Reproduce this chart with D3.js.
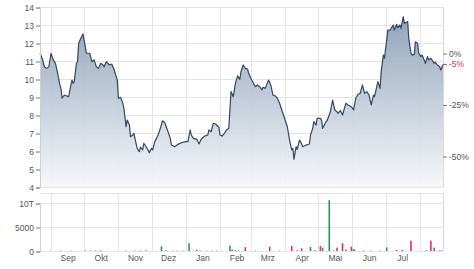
<!DOCTYPE html>
<html>
<head>
<meta charset="utf-8">
<script src="https://cdn.jsdelivr.net/npm/d3@7"></script>
<style>
  body { margin: 0; background: #fff; }
  svg { display: block; font-family: "DejaVu Sans", Verdana, sans-serif; }
  .tick text { fill: #555; font-size: 8.5px; }
</style>
</head>
<body>
<div id="chart"></div>
<script>
// price series
const priceDates = [
  "2022-08-22","2022-08-24","2022-08-26","2022-08-28","2022-08-30","2022-09-01","2022-09-03","2022-09-05","2022-09-07","2022-09-09",
  "2022-09-10","2022-09-11","2022-09-13","2022-09-15","2022-09-17","2022-09-19","2022-09-20","2022-09-21","2022-09-22","2022-09-24",
  "2022-09-25","2022-09-26","2022-09-28","2022-09-30","2022-10-02","2022-10-03","2022-10-06","2022-10-08","2022-10-10","2022-10-12",
  "2022-10-14","2022-10-16","2022-10-18","2022-10-19","2022-10-21","2022-10-24","2022-10-26","2022-10-28","2022-10-31","2022-11-01",
  "2022-11-03","2022-11-05","2022-11-06","2022-11-08","2022-11-09","2022-11-11","2022-11-12","2022-11-14","2022-11-15","2022-11-17",
  "2022-11-18","2022-11-20","2022-11-21","2022-11-23","2022-11-24","2022-11-27","2022-11-29","2022-12-01","2022-12-02","2022-12-04",
  "2022-12-07","2022-12-09","2022-12-11","2022-12-13","2022-12-16","2022-12-18","2022-12-19","2022-12-22","2022-12-25","2022-12-28",
  "2023-01-01","2023-01-03","2023-01-05","2023-01-06","2023-01-08","2023-01-11","2023-01-13","2023-01-15","2023-01-18","2023-01-21",
  "2023-01-22","2023-01-24","2023-01-26","2023-01-28","2023-01-31","2023-02-01","2023-02-03","2023-02-05","2023-02-07","2023-02-09",
  "2023-02-11","2023-02-13","2023-02-15","2023-02-17","2023-02-19","2023-02-20","2023-02-22","2023-02-24","2023-02-26","2023-02-27",
  "2023-03-01","2023-03-03","2023-03-05","2023-03-07","2023-03-09","2023-03-11","2023-03-12","2023-03-14","2023-03-17","2023-03-19",
  "2023-03-21","2023-03-23","2023-03-25","2023-03-27","2023-03-29","2023-04-01","2023-04-03","2023-04-05","2023-04-07","2023-04-08",
  "2023-04-09","2023-04-11","2023-04-12","2023-04-14","2023-04-15","2023-04-17","2023-04-20","2023-04-23","2023-04-24","2023-04-26",
  "2023-04-27","2023-04-29","2023-04-30","2023-05-03","2023-05-04","2023-05-05","2023-05-08","2023-05-09","2023-05-12","2023-05-14",
  "2023-05-16","2023-05-18","2023-05-19","2023-05-21","2023-05-23","2023-05-26","2023-05-28","2023-05-31","2023-06-02","2023-06-04",
  "2023-06-06","2023-06-08","2023-06-10","2023-06-12","2023-06-14","2023-06-16","2023-06-18","2023-06-20","2023-06-21","2023-06-23",
  "2023-06-24","2023-06-26","2023-06-27","2023-06-29","2023-06-30","2023-07-02","2023-07-03","2023-07-05","2023-07-06","2023-07-08",
  "2023-07-09","2023-07-11","2023-07-12","2023-07-14","2023-07-15","2023-07-17","2023-07-18","2023-07-20","2023-07-21","2023-07-22",
  "2023-07-24","2023-07-25","2023-07-27","2023-07-28","2023-07-30","2023-07-31","2023-08-02","2023-08-03","2023-08-05","2023-08-06",
  "2023-08-08","2023-08-09","2023-08-11","2023-08-12","2023-08-14","2023-08-15","2023-08-17","2023-08-19","2023-08-20","2023-08-22"
];
const prices = [
  11.43,11.15,10.68,10.59,10.68,11.43,11.06,10.87,10.32,9.67,
  9.48,8.93,9.11,9.06,9.02,9.67,9.94,9.76,9.85,10.87,
  10.96,11.98,12.26,12.5,11.8,11.43,11.43,10.96,11.06,10.68,
  10.59,10.87,10.78,10.68,10.96,10.78,10.83,10.54,9.94,8.93,
  8.98,8.65,8.37,7.35,7.72,7.44,6.79,6.89,6.98,6.43,
  6.15,5.96,6.22,6.06,6.43,6.15,5.91,6.15,6.06,6.52,
  6.89,7.26,7.68,7.57,7.07,6.70,6.33,6.24,6.37,6.46,
  6.52,6.52,7.17,6.89,6.70,6.65,6.39,6.65,6.83,6.89,
  7.17,7.07,7.54,7.5,7.32,6.89,6.83,6.98,7.17,7.26,
  9.3,9.02,9.76,10.17,9.98,10.4,10.78,10.59,10.55,10.32,
  10.04,9.8,9.57,9.67,9.57,9.39,9.54,9.48,9.94,9.67,
  9.11,9.06,8.93,8.65,8.28,7.72,7.35,6.61,6.06,6.15,
  5.54,6.24,6.09,6.61,6.52,6.24,6.33,6.39,6.89,7.26,
  7.63,7.44,7.81,7.81,7.72,7.26,7.63,7.68,8.18,8.83,
  8.28,8.18,8.09,8.25,8.0,8.65,8.56,8.46,8.28,8.93,
  9.15,9.2,9.67,9.2,9.3,9.11,8.56,9.11,9.02,9.57,
  9.85,9.48,10.41,11.33,11.15,12.17,12.72,12.72,12.81,13.0,
  12.72,13.04,12.85,13.0,12.81,13.46,13.09,13.15,13.19,12.26,
  11.43,11.33,11.37,12.07,11.98,11.43,11.24,11.33,11.06,10.87,
  11.24,11.06,11.15,11.06,10.87,10.93,10.78,10.68,10.5,10.8
];

// volume bars (only the visible ones)
const volDates = [
  "2022-08-31","2022-09-10","2022-09-19","2022-10-02","2022-10-07","2022-10-11","2022-10-16","2022-11-08","2022-11-16","2022-11-21",
  "2022-11-26","2022-12-10","2022-12-14","2022-12-20","2022-12-24","2022-12-30","2023-01-04","2023-01-11","2023-01-14","2023-01-20",
  "2023-01-25","2023-01-29","2023-02-10","2023-02-12","2023-02-15","2023-02-18","2023-02-24","2023-03-05","2023-03-18","2023-03-27",
  "2023-04-07","2023-04-12","2023-04-16","2023-04-24","2023-04-28","2023-05-03","2023-05-05","2023-05-11","2023-05-15","2023-05-18",
  "2023-05-23","2023-05-26","2023-05-31","2023-06-02","2023-06-03","2023-06-11","2023-06-18","2023-06-26","2023-07-02","2023-07-11",
  "2023-07-16","2023-07-24","2023-08-07","2023-08-11","2023-08-14","2023-08-19","2023-08-21"
];
const volumes = [
  60,80,60,100,80,80,150,80,80,100,
  150,950,150,80,80,80,1600,250,100,80,
  80,80,1150,300,150,100,800,80,900,80,
  1050,150,550,850,150,1050,700,10600,100,700,
  1600,300,900,400,150,80,80,80,750,200,
  250,2150,150,2150,700,100,100
];
const volDir = [
  "d","d","d","d","u","d","d","d","d","d",
  "d","u","u","d","d","d","u","u","d","d",
  "d","d","u","u","u","d","d","d","d","d",
  "d","u","d","u","u","d","u","u","d","d",
  "d","u","d","u","u","d","d","d","u","d",
  "d","d","u","d","d","d","u"
];

const monthLabels = ["Sep","Okt","Nov","Dez","Jan","Feb","Mrz","Apr","Mai","Jun","Jul"];
const priceTicks = [4,5,6,7,8,9,10,11,12,13,14];
const pctTicks = [0,-25,-50];
const refPrice = 11.44;
const volTicks = [0,5000,10000];
const volTickLabels = ["0","5000","10T"];

const W = 474, H = 269;
const mLeft = 40, mRight = 443;
const mTop = 7, mBottom = 187, vTop = 193, vBottom = 251;

const parse = d3.timeParse("%Y-%m-%d");
const data = priceDates.map((d, i) => ({date: parse(d), value: prices[i]}));
const vdata = volDates.map((d, i) => ({date: parse(d), value: volumes[i], dir: volDir[i]}));

const svg = d3.select("#chart").append("svg")
    .attr("width", W)
    .attr("height", H);

const x = d3.scaleTime()
    .domain([parse("2022-08-22"), parse("2023-08-22")])
    .range([mLeft, mRight]);
const y = d3.scaleLinear().domain([4, 14]).range([mBottom, mTop]);
const yv = d3.scaleLinear().domain([0, 10000]).range([vBottom, vTop + 10]);

const grid = "#e4e4e4";
// first of each month inside the domain: Sep 1 ... Aug 1
const months = d3.timeMonth.range(x.domain()[0], x.domain()[1]);

// gridlines main panel
svg.append("g").selectAll("line")
    .data(priceTicks)
    .join("line")
    .attr("x1", mLeft).attr("x2", mRight)
    .attr("y1", d => y(d) + 0.5).attr("y2", d => y(d) + 0.5)
    .attr("stroke", grid);
svg.append("g").selectAll("line")
    .data(months)
    .join("line")
    .attr("x1", d => Math.round(x(d)) + 0.5).attr("x2", d => Math.round(x(d)) + 0.5)
    .attr("y1", mTop).attr("y2", mBottom)
    .attr("stroke", grid);

// gridlines volume panel
svg.append("g").selectAll("line")
    .data(volTicks)
    .join("line")
    .attr("x1", mLeft).attr("x2", mRight)
    .attr("y1", d => Math.round(yv(d)) + 0.5).attr("y2", d => Math.round(yv(d)) + 0.5)
    .attr("stroke", grid);
svg.append("line")
    .attr("x1", mLeft).attr("x2", mRight)
    .attr("y1", vTop + 0.5).attr("y2", vTop + 0.5)
    .attr("stroke", grid);
svg.append("g").selectAll("line")
    .data(months)
    .join("line")
    .attr("x1", d => Math.round(x(d)) + 0.5).attr("x2", d => Math.round(x(d)) + 0.5)
    .attr("y1", vTop).attr("y2", vBottom)
    .attr("stroke", grid);

// right borders
[[mTop, mBottom], [vTop, vBottom]].forEach(([a, b]) => {
    svg.append("line")
        .attr("x1", mRight + 0.5).attr("x2", mRight + 0.5)
        .attr("y1", a).attr("y2", b)
        .attr("stroke", "#d8d8d8");
});

// area gradient
const grad = svg.append("defs").append("linearGradient")
    .attr("id", "fillGrad")
    .attr("gradientUnits", "userSpaceOnUse")
    .attr("x1", 0).attr("x2", 0)
    .attr("y1", mTop).attr("y2", mBottom);
grad.append("stop").attr("offset", 0).attr("stop-color", "#7f95b0");
grad.append("stop").attr("offset", 0.55).attr("stop-color", "#c2ccda");
grad.append("stop").attr("offset", 1).attr("stop-color", "#f5f7fa");

const area = d3.area()
    .x(d => x(d.date))
    .y0(mBottom)
    .y1(d => y(d.value));
const line = d3.line()
    .x(d => x(d.date))
    .y(d => y(d.value));

svg.append("path")
    .datum(data)
    .attr("d", area)
    .attr("fill", "url(#fillGrad)")
    .attr("fill-opacity", 0.9);
svg.append("path")
    .datum(data)
    .attr("d", line)
    .attr("fill", "none")
    .attr("stroke", "#34475e")
    .attr("stroke-width", 1.2)
    .attr("stroke-linejoin", "round");

// volume bars
svg.append("g").selectAll("rect")
    .data(vdata)
    .join("rect")
    .attr("x", d => x(d.date) - 0.8)
    .attr("width", 1.6)
    .attr("y", d => yv(d.value))
    .attr("height", d => vBottom - yv(d.value))
    .attr("fill", d => d.dir === "u" ? "#2f9464" : "#d9365a");

// left axes
const yAxis = d3.axisLeft(y).tickValues(priceTicks).tickSize(4).tickPadding(2);
const gy = svg.append("g")
    .attr("transform", `translate(${mLeft},0.5)`)
    .call(yAxis);

const vAxis = d3.axisLeft(yv).tickValues(volTicks)
    .tickFormat((d, i) => volTickLabels[i]).tickSize(4).tickPadding(2);
const gv = svg.append("g")
    .attr("transform", `translate(${mLeft},0.5)`)
    .call(vAxis);

[gy, gv].forEach(g => {
    g.select(".domain").attr("stroke", "#cfcfcf");
    g.selectAll(".tick line").attr("stroke", "#777");
});

// right percentage axis
const pctScale = d3.scaleLinear()
    .domain([-100 * (1 - 4 / refPrice), 100 * (14 / refPrice - 1)])
    .range([mBottom, mTop]);
const lastPct = Math.trunc((prices[prices.length - 1] / refPrice - 1) * 100);
const rAxis = d3.axisRight(pctScale)
    .tickValues(pctTicks.concat([lastPct]))
    .tickFormat(d => d + "%")
    .tickSize(4).tickPadding(2);
const gr = svg.append("g")
    .attr("transform", `translate(${mRight},0.5)`)
    .call(rAxis);
gr.select(".domain").remove();
gr.selectAll(".tick line").attr("stroke", "#777");
gr.selectAll(".tick")
    .filter(d => d === lastPct)
    .call(t => {
        t.select("line").attr("stroke", "#d9365a");
        t.select("text").style("fill", "#d9365a");
    });

// x axis: month labels in the middle of each month
const labelDates = monthLabels.map((m, i) => d3.timeDay.offset(months[i], 15));
const xAxis = d3.axisBottom(x)
    .tickValues(labelDates)
    .tickFormat((d, i) => monthLabels[i])
    .tickSize(0).tickPadding(4);
const gx = svg.append("g")
    .attr("transform", `translate(0,${vBottom})`)
    .call(xAxis);
gx.select(".domain").remove();
</script>
</body>
</html>
